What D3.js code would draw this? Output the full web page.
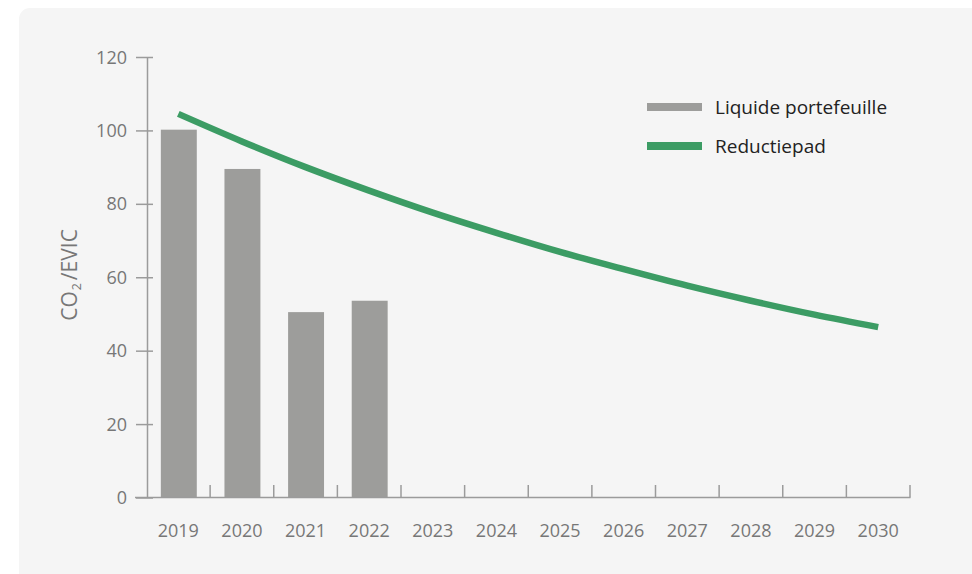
<!DOCTYPE html>
<html>
<head>
<meta charset="utf-8">
<script src="https://cdn.jsdelivr.net/npm/d3@7"></script>
<style>
  html, body { margin: 0; padding: 0; background: #ffffff; }
  svg { display: block; }
  text { font-family: "Open Sans", "Noto Sans", sans-serif; }
</style>
</head>
<body>
<script>
// ---- data ----
const years = ["2019","2020","2021","2022","2023","2024","2025","2026","2027","2028","2029","2030"];
const portfolioYears = ["2019","2020","2021","2022"];
const portfolioValues = [100.2, 89.5, 50.5, 53.6];
const pathValues = [104.5, 97.0, 90.0, 83.6, 77.6, 72.1, 66.9, 62.2, 57.7, 53.6, 49.8, 46.4];
const yTicks = [0, 20, 40, 60, 80, 100, 120];
const seriesNames = ["Liquide portefeuille", "Reductiepad"];
const yTitleMain = "CO", yTitleSub = "2", yTitleRest = "/EVIC";

// ---- layout ----
const W = 972, H = 574;
const svg = d3.select("body").append("svg").attr("width", W).attr("height", H);

svg.append("rect").attr("x", 19).attr("y", 8).attr("width", 970).attr("height", 586)
  .attr("rx", 11).attr("fill", "#f5f5f5");

const axisColor = "#9b9b9b", labelColor = "#777777";
const x = d3.scaleBand().domain(years).range([146.5, 910]).padding(0);
const y = d3.scaleLinear().domain([0, 120]).range([497.5, 57]);
const bw = x.bandwidth();
const barW = bw * 0.565;

// bars
svg.append("g").selectAll("rect").data(portfolioYears).join("rect")
  .attr("x", (d) => x(d) + (bw - barW) / 2 + 0.5)
  .attr("width", barW)
  .attr("y", (d, i) => y(portfolioValues[i]))
  .attr("height", (d, i) => y(0) - y(portfolioValues[i]))
  .attr("fill", "#9d9d9b");

// y axis
const yAxis = svg.append("g").attr("transform", `translate(147,0)`)
  .call(d3.axisLeft(y).tickValues(yTicks).tickSizeInner(11).tickSizeOuter(0).tickPadding(9));
yAxis.select(".domain").attr("stroke", axisColor).attr("stroke-width", 1.5)
  .attr("d", `M0.5,${y(120)}V${y(0)}`);
yAxis.selectAll(".tick line").attr("stroke", axisColor).attr("stroke-width", 1.5)
  .attr("x1", 6).attr("x2", -11);
yAxis.selectAll(".tick text").attr("fill", labelColor).style("font-size", "18px")
  .style("font-family", '"Open Sans", sans-serif').attr("dy", "0.34em");

// x axis
const xAxis = svg.append("g").attr("transform", `translate(0,${y(0)})`)
  .call(d3.axisBottom(x).tickSize(0).tickPadding(27));
xAxis.select(".domain").attr("stroke", axisColor).attr("stroke-width", 1.5)
  .attr("d", `M135,0H910.5`);
xAxis.selectAll(".tick text").attr("fill", labelColor).style("font-size", "18px")
  .style("font-family", '"Open Sans", sans-serif');
svg.append("g").selectAll("line").data(years).join("line")
  .attr("x1", (d) => x(d) + bw).attr("x2", (d) => x(d) + bw)
  .attr("y1", y(0)).attr("y2", y(0) - 12.5)
  .attr("stroke", axisColor).attr("stroke-width", 1.5);

// reduction path
const line = d3.line()
  .x((d, i) => x(years[i]) + bw / 2)
  .y((d) => y(d))
  .curve(d3.curveMonotoneX);
svg.append("path").datum(pathValues).attr("d", line)
  .attr("fill", "none").attr("stroke", "#3c9c64").attr("stroke-width", 6.5)
  .attr("stroke-linecap", "butt");

// y title
const yt = svg.append("text")
  .attr("transform", `translate(76.5,275) rotate(-90)`)
  .attr("text-anchor", "middle")
  .attr("fill", labelColor).style("font-size", "21px");
yt.append("tspan").text(yTitleMain);
yt.append("tspan").text(yTitleSub).style("font-size", "12.5px").attr("dy", 4).attr("dx", 1);
yt.append("tspan").text(yTitleRest).attr("dy", -4).attr("dx", 3);

// legend
const legColors = ["#9d9d9b", "#3c9c64"];
const leg = svg.append("g");
seriesNames.forEach((name, i) => {
  const cy = 107 + i * 39;
  leg.append("rect").attr("x", 647).attr("y", cy - 4).attr("width", 55).attr("height", 8)
    .attr("fill", legColors[i]);
  leg.append("text").attr("x", 715).attr("y", cy + 6.5).attr("fill", "#222222")
    .style("font-size", "19px").text(name);
});
</script>
</body>
</html>
